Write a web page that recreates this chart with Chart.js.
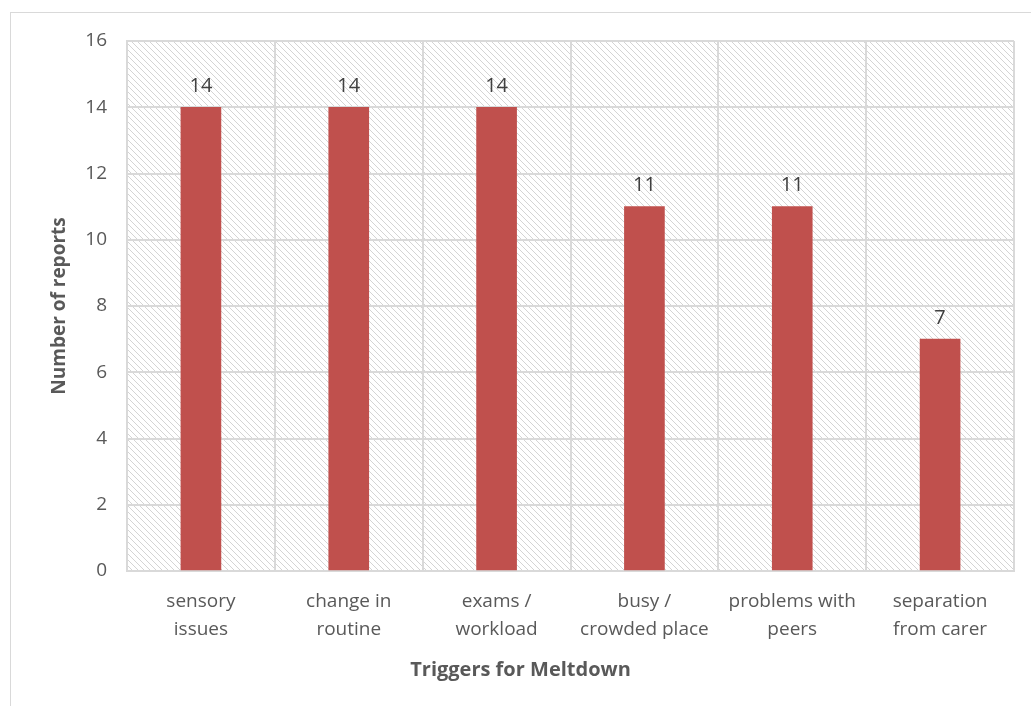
<!DOCTYPE html>
<html>
<head>
<meta charset="utf-8">
<script src="https://cdn.jsdelivr.net/npm/chart.js@4"></script>
<style>
  html, body { margin: 0; padding: 0; background: #fff; }
  #wrap { position: relative; width: 1031px; height: 706px; }
  #frame { position: absolute; left: 10px; top: 12px; right: 0; bottom: 0;
           border-left: 1px solid #d9d9d9; border-top: 1px solid #d9d9d9; }
  canvas { position: absolute; left: 0; top: 0; }
</style>
</head>
<body>
<div id="wrap">
  <div id="frame"></div>
  <canvas id="chart" width="1031" height="706"></canvas>
</div>
<script>
const categories = [
  ['sensory', 'issues'],
  ['change in', 'routine'],
  ['exams /', 'workload'],
  ['busy /', 'crowded place'],
  ['problems with', 'peers'],
  ['separation', 'from carer']
];
const reports = [14, 14, 14, 11, 11, 7];
const xTitle = 'Triggers for Meltdown';
const yTitle = 'Number of reports';

const FONT = "'Open Sans', 'Liberation Sans', sans-serif";
const TEXT = '#595959';
const FRAME_LEFT = 10;

// diagonal hatch behind the plot area
function hatch(ctx) {
  const c = document.createElement('canvas');
  c.width = 6; c.height = 6;
  const p = c.getContext('2d');
  p.strokeStyle = '#d4d4d4';
  p.lineWidth = 1;
  p.beginPath();
  p.moveTo(-1, -1); p.lineTo(7, 7);
  p.moveTo(-1, 5); p.lineTo(1, 7);
  p.moveTo(5, -1); p.lineTo(7, 1);
  p.stroke();
  return ctx.createPattern(c, 'repeat');
}

const plotBackground = {
  id: 'plotBackground',
  beforeDraw(chart) {
    const { ctx, chartArea: a } = chart;
    ctx.save();
    ctx.fillStyle = hatch(ctx);
    ctx.fillRect(a.left, a.top, a.right - a.left, a.bottom - a.top);
    ctx.restore();
  }
};

const valueLabels = {
  id: 'valueLabels',
  afterDatasetsDraw(chart) {
    const { ctx } = chart;
    ctx.save();
    ctx.font = '20px ' + FONT;
    ctx.fillStyle = '#404040';
    ctx.textAlign = 'center';
    ctx.textBaseline = 'bottom';
    chart.getDatasetMeta(0).data.forEach((bar, i) => {
      ctx.fillText(reports[i], bar.x, bar.y - 11);
    });
    ctx.restore();
  }
};

// category axis title sits centred on the whole frame, not the plot
const categoryTitle = {
  id: 'categoryTitle',
  afterDraw(chart) {
    const { ctx } = chart;
    ctx.save();
    ctx.font = 'bold 20px ' + FONT;
    ctx.fillStyle = TEXT;
    ctx.textAlign = 'center';
    ctx.textBaseline = 'middle';
    ctx.fillText(xTitle, (FRAME_LEFT + chart.width) / 2, chart.height - 36);
    ctx.restore();
  }
};

new Chart(document.getElementById('chart'), {
  type: 'bar',
  data: {
    labels: categories,
    datasets: [{
      data: reports,
      backgroundColor: '#c0504d',
      barThickness: 40
    }]
  },
  plugins: [plotBackground, valueLabels, categoryTitle],
  options: {
    responsive: false,
    animation: false,
    layout: { padding: { top: 41, right: 17, left: 0, bottom: 0 } },
    plugins: {
      legend: { display: false },
      tooltip: { enabled: false }
    },
    scales: {
      x: {
        afterFit: s => { s.height = 135; },
        grid: { color: '#d9d9d9', lineWidth: 2, drawTicks: false },
        border: { color: '#d9d9d9', width: 2 },
        ticks: {
          color: TEXT, font: { family: FONT, size: 19, lineHeight: 1.45 },
          padding: 17, maxRotation: 0
        }
      },
      y: {
        min: 0, max: 16,
        afterFit: s => { s.width = 127; },
        grid: { color: '#d9d9d9', lineWidth: 2, drawTicks: false },
        border: { color: '#d9d9d9', width: 2 },
        ticks: { stepSize: 2, color: TEXT, font: { family: FONT, size: 19 }, padding: 20 },
        title: {
          display: true, text: yTitle, color: TEXT,
          font: { family: FONT, size: 19, weight: 'bold', lineHeight: 1.2 },
          padding: { top: 48, bottom: 0 }
        }
      }
    }
  }
});
</script>
</body>
</html>
